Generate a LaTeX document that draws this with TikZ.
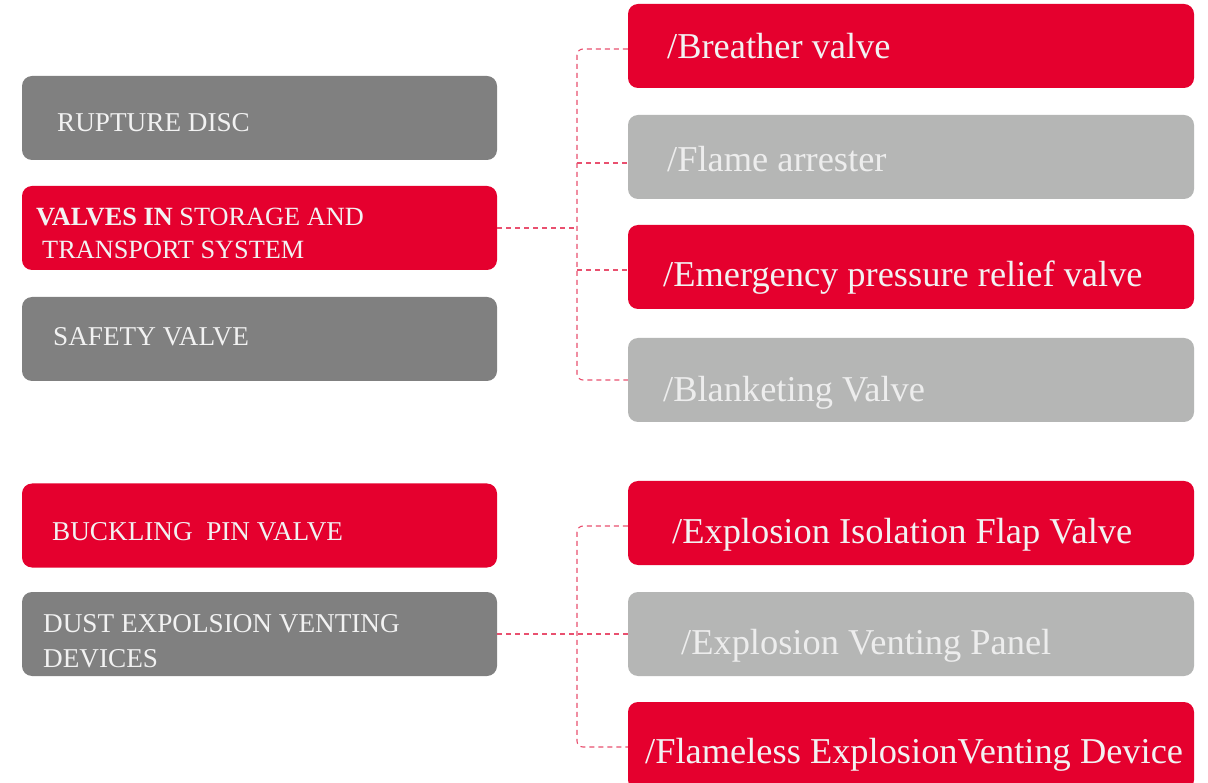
\documentclass[tikz,border=0pt]{standalone}
\usepackage{fontspec}
\setmainfont{Liberation Serif}
\definecolor{brandred}{HTML}{E5002E}
\definecolor{darkbox}{HTML}{808080}
\definecolor{lightbox}{HTML}{B5B6B5}
\definecolor{dashred}{HTML}{E9506F}
\definecolor{softwhite}{HTML}{F2F2F2}
\definecolor{greytext}{HTML}{EDEDED}
\begin{document}
\begin{tikzpicture}[x=1pt,y=-1pt,
  box/.style={inner sep=0pt, rounded corners=10pt, draw=none},
  leftbox/.style={box, minimum width=475pt, minimum height=84pt},
  rightbox/.style={box, minimum width=566pt, minimum height=84pt},
  redfill/.style={fill=brandred},
  darkfill/.style={fill=darkbox},
  lightfill/.style={fill=lightbox},
  lefttext/.style={anchor=base west, inner sep=0pt, text=softwhite, font=\fontsize{27.2}{33}\selectfont, align=left},
  righttext/.style={anchor=base west, inner sep=0pt, text=softwhite, font=\fontsize{36.4}{40}\selectfont},
  conn/.style={draw=dashred, line width=1.1pt, dash pattern=on 5pt off 4pt}
]
\useasboundingbox (0,0) rectangle (1208,783);
\fill[white] (0,0) rectangle (1208,783);

% left boxes
\node[leftbox, darkfill] (rupture) at (259.5,118) {};
\node[leftbox, redfill] (valves) at (259.5,228) {};
\node[leftbox, darkfill] (safety) at (259.5,339) {};
\node[leftbox, redfill] (buckling) at (259.5,525.5) {};
\node[leftbox, darkfill] (dust) at (259.5,634) {};

\node[lefttext] (rupture-t) at (57,132) {RUPTURE DISC};
\node[lefttext, font=\fontsize{26.3}{33}\selectfont] (valves-t) at (36,259) {\textbf{VALVES IN} STORAGE AND\\\hspace{6pt}TRANSPORT SYSTEM};
\node[lefttext] (safety-t) at (53,346) {SAFETY VALVE};
\node[lefttext] (buckling-t) at (52,540) {BUCKLING\ \ PIN VALVE};
\node[lefttext, font=\fontsize{27.2}{35}\selectfont] (dust-t) at (43,667) {DUST EXPOLSION VENTING\\DEVICES};

% right boxes
\node[rightbox, redfill] (breather) at (911,46) {};
\node[rightbox, lightfill] (flame) at (911,157) {};
\node[rightbox, redfill] (emergency) at (911,267) {};
\node[rightbox, lightfill] (blanket) at (911,380) {};
\node[rightbox, redfill] (isolation) at (911,523) {};
\node[rightbox, lightfill] (panel) at (911,634) {};
\node[rightbox, redfill, minimum height=88pt] (flameless) at (911,746) {};

\node[righttext] (breather-t) at (667,59) {/Breather valve};
\node[righttext, text=greytext] (flame-t) at (667,171.5) {/Flame arrester};
\node[righttext] (emergency-t) at (663,287) {/Emergency pressure relief valve};
\node[righttext, text=greytext] (blanket-t) at (663,402) {/Blanketing Valve};
\node[righttext] (isolation-t) at (672,543) {/Explosion Isolation Flap Valve};
\node[righttext, text=greytext] (panel-t) at (681,654) {/Explosion Venting Panel};
\node[righttext] (flameless-t) at (645,763) {/Flameless ExplosionVenting Device};

% connectors, upper group
\coordinate (j1) at (577,228);
\draw[conn] (valves.east) -- (j1);
\draw[conn, rounded corners=6pt] ([yshift=-3pt]breather.west) -| (j1) |- (blanket.west);
\draw[conn] ([yshift=-6pt]flame.west -| j1) -- ([yshift=-6pt]flame.west);
\draw[conn] ([yshift=-3pt]emergency.west -| j1) -- ([yshift=-3pt]emergency.west);

% connectors, lower group
\coordinate (j2) at (577,634);
\draw[conn] (dust.east) -- (j2) -- (panel.west);
\draw[conn, rounded corners=6pt] ([yshift=-3pt]isolation.west) -| (j2) |- ([yshift=-1pt]flameless.west);
\end{tikzpicture}
\end{document}
